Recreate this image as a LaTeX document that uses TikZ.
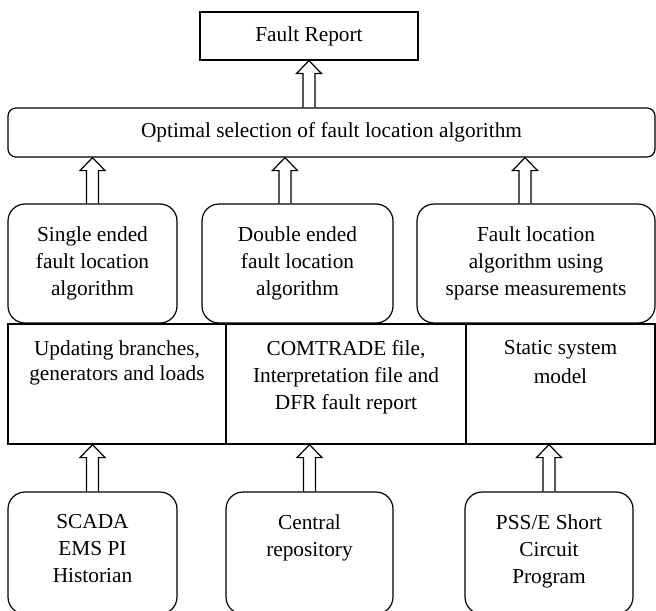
\documentclass[tikz,border=0pt]{standalone}
\usepackage{fontspec}
\setmainfont{Liberation Serif}
\usetikzlibrary{calc}

% hollow upward block arrow from #1 (foot) to #2 (tip)
\newcommand{\hollowup}[2]{%
  \draw let \p1=(#1), \p2=(#2) in
    (\x1-4.5pt,\y1) -- (\x1-4.5pt,\y2-9.75pt) -- (\x1-9.4pt,\y2-9.75pt)
    -- (\x1,\y2) -- (\x1+9.4pt,\y2-9.75pt) -- (\x1+4.5pt,\y2-9.75pt)
    -- (\x1+4.5pt,\y1);}

\begin{document}
\begin{tikzpicture}[x=0.75pt,y=-0.75pt,line width=0.9pt,
  every node/.style={font=\fontsize{16pt}{20.25pt}\selectfont},
  box/.style={draw,inner sep=0pt},
  soft/.style={box,rounded corners=12.75pt,align=center},
  txt/.style={align=center,inner sep=0pt,anchor=north}]
% Frame
\useasboundingbox (0,0) rectangle (656,610);
\clip (0,0) rectangle (656,610);
% Report and selection
\node[box,minimum width=163.5pt,minimum height=36pt] (report) at (309,36) {Fault Report};
\node[box,rounded corners=6pt,minimum width=485.25pt,minimum height=36.75pt] (select) at (331.5,132.5)
  {Optimal selection of fault location algorithm};
% Algorithms
\node[soft,minimum width=126.75pt,minimum height=89.25pt] (single) at (92.5,263.5)
  {Single ended\\fault location\\algorithm};
\node[soft,minimum width=143.25pt,minimum height=89.25pt] (double) at (297.5,263.5)
  {Double ended\\fault location\\algorithm};
\node[soft,minimum width=178.5pt,minimum height=89.25pt] (sparse) at (536,263.5)
  {Fault location\\algorithm using\\sparse measurements};
% Data
\node[box,minimum width=163.5pt,minimum height=90pt] (update) at (117,384) {};
\node[box,minimum width=180pt,minimum height=90pt] (comtrade) at (346,384) {};
\node[box,minimum width=141.75pt,minimum height=90pt] (static) at (560.5,384) {};
\node[txt,font=\fontsize{16pt}{18.75pt}\selectfont] (updatetxt) at ([yshift=-12.4pt]update.north)
  {Updating branches,\\generators and loads};
\node[txt] (comtradetxt) at ([yshift=-12.4pt]comtrade.north)
  {COMTRADE file,\\Interpretation file and\\DFR fault report};
\node[txt,font=\fontsize{16pt}{21.5pt}\selectfont] (statictxt) at ([yshift=-12.4pt]static.north)
  {Static system\\model};
% Sources
\node[soft,minimum width=126.75pt,minimum height=91.5pt] (scada) at (92.5,553) {};
\node[soft,minimum width=125.25pt,minimum height=91.5pt] (repo) at (309.5,553) {};
\node[soft,minimum width=126pt,minimum height=91.5pt] (psse) at (549,553) {};
\node[txt] (scadatxt) at ([yshift=-16.9pt]scada.north) {SCADA\\EMS PI\\Historian};
\node[txt] (repotxt) at ([yshift=-16.9pt]repo.north) {Central\\repository};
\node[txt] (pssetxt) at ([yshift=-16.9pt]psse.north) {PSS/E Short\\Circuit\\Program};
% Arrows
\hollowup{report.south |- select.north}{report.south}
\coordinate (dfoot) at ([xshift=-9.4pt]double.north);
\coordinate (sfoot) at ([xshift=-8.25pt]sparse.north);
\foreach \src in {single.north,dfoot,sfoot}
  \hollowup{\src}{\src |- select.south};
\foreach \src in {scada,repo,psse}
  \hollowup{\src.north}{\src.north |- update.south};
\end{tikzpicture}
\end{document}
